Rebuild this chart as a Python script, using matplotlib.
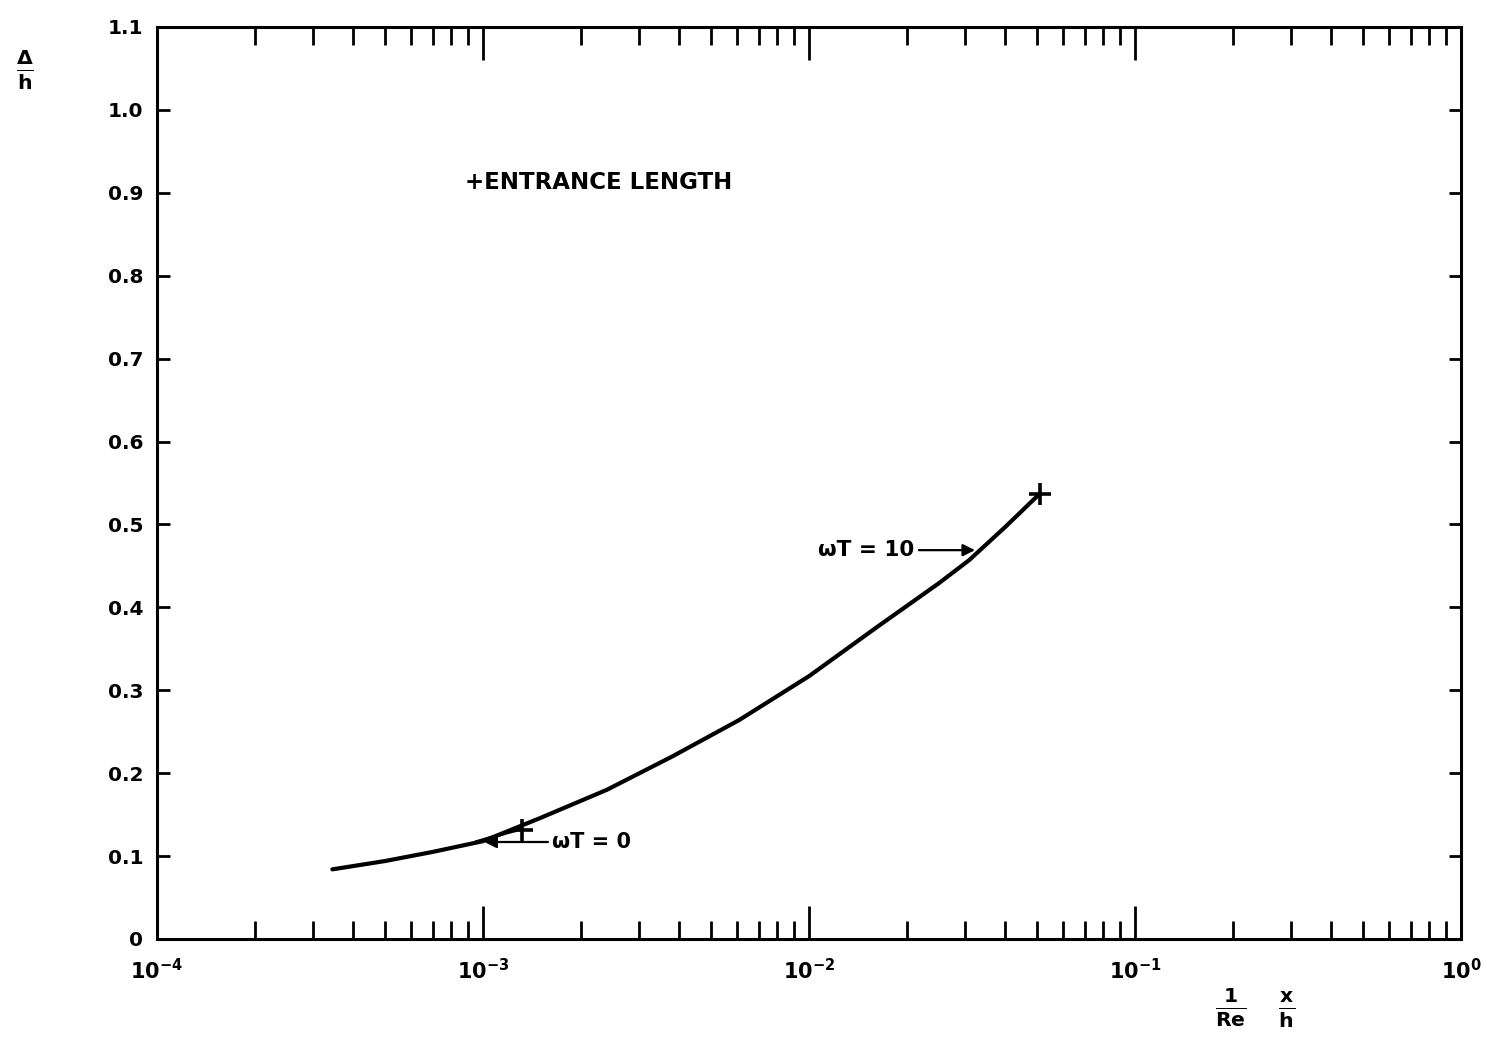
import numpy as np
import matplotlib
matplotlib.use("Agg")
import matplotlib.pyplot as plt
from matplotlib.ticker import FixedLocator, FixedFormatter, NullFormatter

plt.rcParams.update({
    "font.family": "DejaVu Sans",
    "font.weight": "bold",
    "mathtext.fontset": "dejavusans",
})

# growth of the layer thickness, omega*tau = 10 curve
x_wt10 = [3.45e-4, 5.0e-4, 7.0e-4, 1.0e-3, 1.5e-3, 2.4e-3, 3.8e-3, 6.1e-3,
          1.0e-2, 1.6e-2, 2.5e-2, 3.1e-2, 4.0e-2, 5.1e-2]
y_wt10 = [0.084, 0.094, 0.105, 0.118, 0.146, 0.180, 0.220, 0.264,
          0.317, 0.375, 0.429, 0.457, 0.497, 0.537]

# omega*tau = 0 branch, ending at its entrance length
x_wt0 = [9.5e-4, 1.05e-3, 1.18e-3, 1.32e-3]
y_wt0 = [0.117, 0.122, 0.128, 0.133]

# entrance lengths
x_entr = [1.32e-3, 5.1e-2]
y_entr = [0.132, 0.537]

x_major = [1e-4, 1e-3, 1e-2, 1e-1, 1e0]
x_major_labels = [r"$\mathbf{10^{-4}}$", r"$\mathbf{10^{-3}}$", r"$\mathbf{10^{-2}}$",
                  r"$\mathbf{10^{-1}}$", r"$\mathbf{10^{0}}$"]
y_ticks = [0, 0.1, 0.2, 0.3, 0.4, 0.5, 0.6, 0.7, 0.8, 0.9, 1.0, 1.1]
y_tick_labels = ["0", "0.1", "0.2", "0.3", "0.4", "0.5", "0.6", "0.7", "0.8", "0.9", "1.0", "1.1"]

fig = plt.figure(figsize=(14.93, 10.41), dpi=100)
ax = fig.add_axes([157 / 1493, 1 - 939 / 1041, (1461 - 157) / 1493, (939 - 27) / 1041])

ax.plot(x_wt10, y_wt10, color="black", lw=3.0, solid_capstyle="round",
        solid_joinstyle="round")
ax.plot(x_wt0, y_wt0, color="black", lw=2.4, solid_capstyle="round")
ax.plot(x_entr, y_entr, "+", color="black", ms=16, mew=2.6)

ax.set_xscale("log")
ax.set_xlim(1e-4, 1e0)
ax.set_ylim(0, 1.1)

minor = [m * 10.0 ** e for e in range(-4, 0) for m in range(2, 10)]
ax.xaxis.set_major_locator(FixedLocator(x_major))
ax.xaxis.set_major_formatter(FixedFormatter(x_major_labels))
ax.xaxis.set_minor_locator(FixedLocator(minor))
ax.xaxis.set_minor_formatter(NullFormatter())
ax.yaxis.set_major_locator(FixedLocator(y_ticks))
ax.yaxis.set_major_formatter(FixedFormatter(y_tick_labels))

ax.tick_params(axis="x", which="major", direction="in", length=24, width=2.0,
               top=True, labelsize=15, pad=14)
ax.tick_params(axis="x", which="minor", direction="in", length=13, width=2.0, top=True)
ax.tick_params(axis="y", which="major", direction="in", length=9, width=2.0,
               right=True, labelsize=14.5, pad=10)
for lab in ax.get_yticklabels():
    lab.set_fontweight("bold")
for s in ax.spines.values():
    s.set_linewidth(2.2)

ax.annotate("ωT = 0", xy=(1.01e-3, 0.117), xytext=(1.63e-3, 0.117),
            ha="left", va="center", fontsize=15, fontweight="bold",
            arrowprops=dict(arrowstyle="-|>", color="black", lw=1.6,
                            mutation_scale=18, shrinkA=1, shrinkB=0))
ax.annotate("ωT = 10", xy=(0.0323, 0.469), xytext=(0.0211, 0.469),
            ha="right", va="center", fontsize=15.5, fontweight="bold",
            arrowprops=dict(arrowstyle="-|>", color="black", lw=1.6,
                            mutation_scale=18, shrinkA=1, shrinkB=0))

ax.text(8.8e-4, 0.912, "+ENTRANCE LENGTH", ha="left", va="center",
        fontsize=16.5, fontweight="bold")

fig.text(25 / 1493, 1 - 70 / 1041, r"$\mathbf{\frac{\Delta}{h}}$", ha="center",
         va="center", fontsize=21)
fig.text(1255 / 1493, 1 - 1008 / 1041, r"$\mathbf{\frac{1}{Re}\quad\frac{x}{h}}$",
         ha="center", va="center", fontsize=21)

fig.savefig("out.png", dpi=100)
